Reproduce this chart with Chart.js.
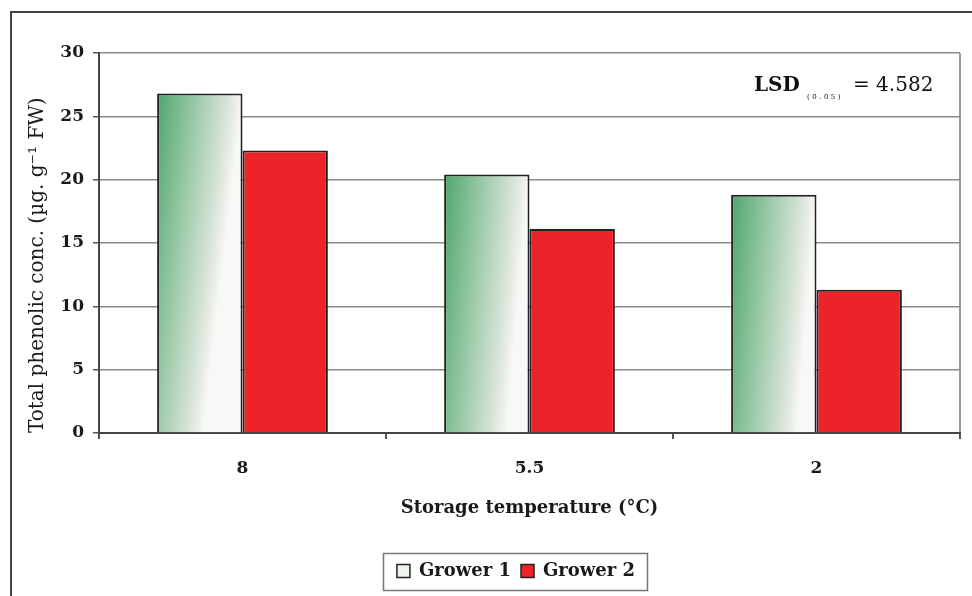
<!DOCTYPE html>
<html>
<head>
<meta charset="utf-8">
<script src="https://cdn.jsdelivr.net/npm/chart.js@4/dist/chart.umd.min.js"></script>
<style>
html,body{margin:0;padding:0;background:#fff;}
#wrap{width:972px;height:596px;position:relative;}
</style>
</head>
<body>
<div id="wrap"><canvas id="c" width="972" height="596"></canvas></div>
<script>
const categories = ['8', '5.5', '2'];
const grower1 = [26.8, 20.4, 18.8];
const grower2 = [22.3, 16.1, 11.3];
const seriesNames = ['Grower 1', 'Grower 2'];
const yTitle = 'Total phenolic conc. (\u00b5g. g\u207b\u00b9 FW)';
const xTitle = 'Storage temperature (\u00b0C)';
const lsdLabel = 'LSD';
const lsdSub = '(0.05)';
const lsdValue = '= 4.582';

const CAT_PCT = 0.595;
const SERIF = '"DejaVu Serif", "Liberation Serif", serif';

function g1Fill(ctx) {
  const chart = ctx.chart;
  if (ctx.type !== 'data' || !chart.chartArea || !chart.scales.x) return '#dfeadf';
  const xs = chart.scales.x, ys = chart.scales.y;
  const cx = xs.getPixelForValue(ctx.dataIndex);
  const catW = xs.width / categories.length;
  const left = cx - catW * CAT_PCT / 2;
  const right = cx;
  const top = ys.getPixelForValue(ctx.raw);
  const bottom = ys.getPixelForValue(0);
  const h = (bottom - top) * 0.03;
  const g = chart.ctx.createLinearGradient(left, top, right, top + h);
  g.addColorStop(0, '#4fa66c');
  g.addColorStop(0.45, '#99c9a6');
  g.addColorStop(0.85, '#dde6dc');
  g.addColorStop(1, '#f8f9f7');
  return g;
}

const decor = {
  id: 'decor',
  beforeDraw(chart) {
    const c = chart.ctx;
    c.save();
    c.fillStyle = '#fff';
    c.fillRect(0, 0, chart.width, chart.height);
    c.strokeStyle = '#444';
    c.lineWidth = 2;
    c.beginPath();
    c.moveTo(11, 597);
    c.lineTo(11, 12);
    c.lineTo(972, 12);
    c.stroke();
    c.restore();
  },
  afterLayout(chart) {
    const lg = chart.legend;
    if (lg) { lg.left += 36; lg.right += 36; }
  },
  afterDraw(chart) {
    const c = chart.ctx;
    c.save();
    c.fillStyle = '#111';
    c.textBaseline = 'alphabetic';
    c.font = 'bold 20px ' + SERIF;
    c.fillText(lsdLabel, 754, 91);
    c.font = '7px ' + SERIF;
    try { c.letterSpacing = '2.5px'; } catch (e) {}
    c.fillText(lsdSub, 807, 99);
    try { c.letterSpacing = '0px'; } catch (e) {}
    c.font = '20px ' + SERIF;
    c.fillText(lsdValue, 853, 91);
    c.strokeStyle = '#777';
    c.lineWidth = 1.5;
    c.strokeRect(383.5, 553.5, 264, 37);
    c.restore();
  }
};

new Chart(document.getElementById('c'), {
  type: 'bar',
  data: {
    labels: categories,
    datasets: [
      {
        label: seriesNames[0],
        data: grower1,
        backgroundColor: g1Fill,
        borderColor: '#222',
        borderWidth: 2,
        borderSkipped: 'bottom'
      },
      {
        label: seriesNames[1],
        data: grower2,
        backgroundColor: '#ee2229',
        borderColor: '#222',
        borderWidth: 2,
        borderSkipped: 'bottom'
      }
    ]
  },
  options: {
    responsive: false,
    animation: false,
    devicePixelRatio: 1,
    layout: { padding: { top: 53, right: 12, bottom: 6, left: 0 } },
    datasets: { bar: { categoryPercentage: CAT_PCT, barPercentage: 1 } },
    plugins: {
      tooltip: { enabled: false },
      legend: {
        position: 'bottom',
        labels: {
          color: '#1a1a1a',
          font: { family: SERIF, size: 18, weight: 'bold' },
          boxWidth: 13,
          boxHeight: 13,
          padding: 10,
          generateLabels(chart) {
            const base = Chart.defaults.plugins.legend.labels.generateLabels(chart);
            base[0].fillStyle = '#eef3ee';
            base[0].strokeStyle = '#222';
            base[1].fillStyle = '#ee2229';
            base[1].strokeStyle = '#222';
            base.forEach(b => b.lineWidth = 1.5);
            return base;
          }
        }
      }
    },
    scales: {
      x: {
        offset: true,
        afterFit(s) { s.height = 119; },
        grid: {
          drawOnChartArea: true,
          offset: true,
          color: ctx => (ctx.type === 'tick' ? 'rgba(0,0,0,0)' : '#999'),
          lineWidth: 2,
          tickColor: '#555',
          tickLength: 6
        },
        border: { color: '#444', width: 2 },
        ticks: {
          color: '#1a1a1a',
          font: { family: SERIF, size: 17, weight: 'bold' },
          padding: 19
        },
        title: {
          display: true,
          text: xTitle,
          color: '#1a1a1a',
          font: { family: SERIF, size: 18, weight: 'bold' },
          padding: { top: 0, bottom: 33 }
        }
      },
      y: {
        min: 0,
        max: 30,
        afterFit(s) { s.width = 99; },
        grid: {
          color: '#8a8a8a',
          lineWidth: 1.5,
          tickColor: '#555',
          tickLength: 6
        },
        border: { color: '#444', width: 2 },
        ticks: {
          stepSize: 5,
          color: '#1a1a1a',
          font: { family: SERIF, size: 17, weight: 'bold' },
          padding: 9
        },
        title: {
          display: true,
          text: yTitle,
          align: 'start',
          color: '#1a1a1a',
          font: { family: SERIF, size: 20 },
          padding: { top: 26, bottom: 0 }
        }
      }
    }
  },
  plugins: [decor]
});
</script>
</body>
</html>
